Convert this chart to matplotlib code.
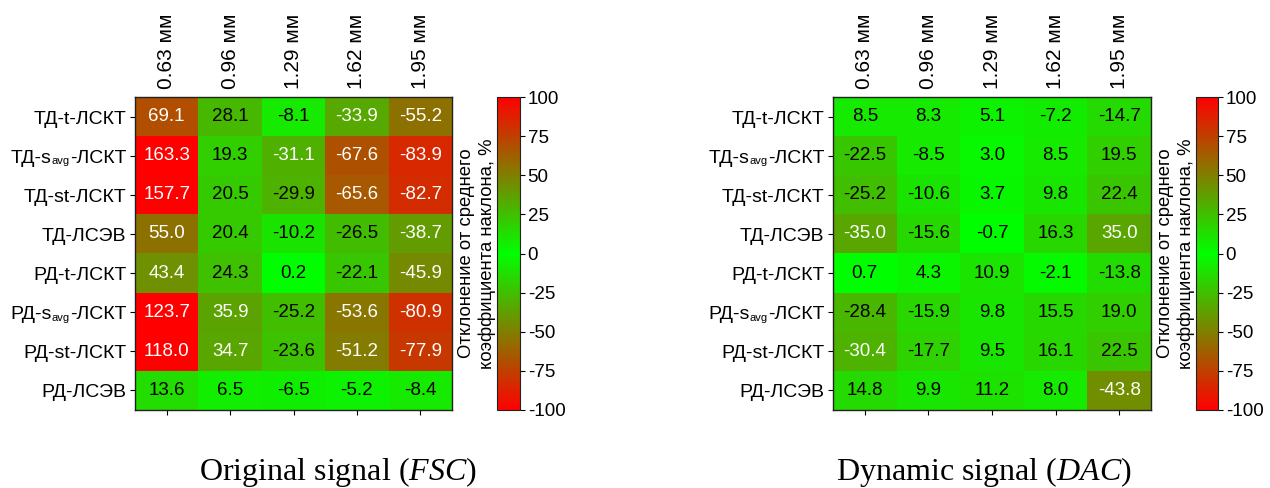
import numpy as np
import matplotlib
matplotlib.use("Agg")
import matplotlib.pyplot as plt
from matplotlib.colors import LinearSegmentedColormap, Normalize

plt.rcParams["font.family"] = ["Liberation Sans", "DejaVu Sans"]
plt.rcParams["mathtext.fontset"] = "custom"
plt.rcParams["mathtext.it"] = "Liberation Serif:italic"
plt.rcParams["mathtext.rm"] = "Liberation Serif"
plt.rcParams["axes.unicode_minus"] = False

diameters = ["0.63 мм", "0.96 мм", "1.29 мм", "1.62 мм", "1.95 мм"]
# each method name: (prefix, subscript, suffix)
methods = [
    ("ТД-t-ЛСКТ", "", ""),
    ("ТД-s", "avg", "-ЛСКТ"),
    ("ТД-st-ЛСКТ", "", ""),
    ("ТД-ЛСЭВ", "", ""),
    ("РД-t-ЛСКТ", "", ""),
    ("РД-s", "avg", "-ЛСКТ"),
    ("РД-st-ЛСКТ", "", ""),
    ("РД-ЛСЭВ", "", ""),
]

fsc_values = [
    [69.1, 28.1, -8.1, -33.9, -55.2],
    [163.3, 19.3, -31.1, -67.6, -83.9],
    [157.7, 20.5, -29.9, -65.6, -82.7],
    [55.0, 20.4, -10.2, -26.5, -38.7],
    [43.4, 24.3, 0.2, -22.1, -45.9],
    [123.7, 35.9, -25.2, -53.6, -80.9],
    [118.0, 34.7, -23.6, -51.2, -77.9],
    [13.6, 6.5, -6.5, -5.2, -8.4],
]

dac_values = [
    [8.5, 8.3, 5.1, -7.2, -14.7],
    [-22.5, -8.5, 3.0, 8.5, 19.5],
    [-25.2, -10.6, 3.7, 9.8, 22.4],
    [-35.0, -15.6, -0.7, 16.3, 35.0],
    [0.7, 4.3, 10.9, -2.1, -13.8],
    [-28.4, -15.9, 9.8, 15.5, 19.0],
    [-30.4, -17.7, 9.5, 16.1, 22.5],
    [14.8, 9.9, 11.2, 8.0, -43.8],
]

captions = ["Original signal ($\\mathit{FSC}$)", "Dynamic signal ($\\mathit{DAC}$)"]
cbar_ticks = [-100, -75, -50, -25, 0, 25, 50, 75, 100]
cbar_label = "Отклонение от среднего\nкоэффициента наклона, %"

cmap = LinearSegmentedColormap.from_list(
    "red_green_red", [(1, 0, 0), (0, 1, 0), (1, 0, 0)], N=256)
norm = Normalize(vmin=-100, vmax=100)

W, H = 1270, 488
fig = plt.figure(figsize=(W / 100, H / 100), dpi=100)
renderer = fig.canvas.get_renderer()
PT = 72 / 100  # points per pixel

LABEL_SIZE = 14
SUB_SIZE = 8


def px_axes(x0, y0, x1, y1):
    return fig.add_axes([x0 / W, 1 - y1 / H, (x1 - x0) / W, (y1 - y0) / H])


def row_label(ax, row, prefix, sub, suffix):
    """Right-aligned row name left of the axes, with a small subscript."""
    x = -8.5          # pixels left of the axes edge
    base = -7.0       # baseline below the row centre, pixels
    pieces = [(suffix, LABEL_SIZE, 0.0), (sub, SUB_SIZE, -1.5),
              (prefix, LABEL_SIZE, 0.0)]
    for text, size, dy in pieces:
        if not text:
            continue
        t = ax.annotate(text, xy=(0, row), xycoords=("axes fraction", "data"),
                        xytext=(x * PT, (base + dy) * PT),
                        textcoords="offset points", ha="right",
                        va="baseline", fontsize=size, annotation_clip=False)
        x -= t.get_window_extent(renderer).width


panels = [
    (fsc_values, (135, 97, 452, 410), (497, 97, 520, 410), 338),
    (dac_values, (833, 97, 1151, 410), (1196, 97, 1218, 410), 984),
]

for (vals, box, cbox, cap_x), caption in zip(panels, captions):
    data = np.array(vals)
    ax = px_axes(*box)
    im = ax.imshow(data, cmap=cmap, norm=norm, aspect="auto",
                   interpolation="nearest")
    for i in range(data.shape[0]):
        for j in range(data.shape[1]):
            v = data[i, j]
            ax.text(j, i, f"{v:.1f}", ha="center", va="center", fontsize=13.5,
                    color="white" if abs(v) >= 30 else "black")
    ax.set_xticks(range(len(diameters)))
    ax.set_xticklabels(diameters, rotation=90, fontsize=15)
    ax.set_yticks(range(len(methods)))
    ax.set_yticklabels([])
    for i, (p, s, q) in enumerate(methods):
        row_label(ax, i, p, s, q)
    ax.tick_params(axis="x", top=False, labeltop=True, bottom=True,
                   labelbottom=False, pad=2)
    for s in ax.spines.values():
        s.set_color("#222222")
        s.set_linewidth(1.0)

    cax = px_axes(*cbox)
    cb = fig.colorbar(im, cax=cax, ticks=cbar_ticks)
    cb.ax.tick_params(labelsize=13.5, pad=2)
    cb.outline.set_edgecolor("#222222")
    cb.ax.yaxis.set_label_position("left")
    cb.set_label(cbar_label, fontsize=13.3, labelpad=1)

    fig.text(cap_x / W, 1 - 480 / H, caption, ha="center", va="baseline",
             fontsize=23, family="Liberation Serif")

fig.savefig("out.png", dpi=100)
